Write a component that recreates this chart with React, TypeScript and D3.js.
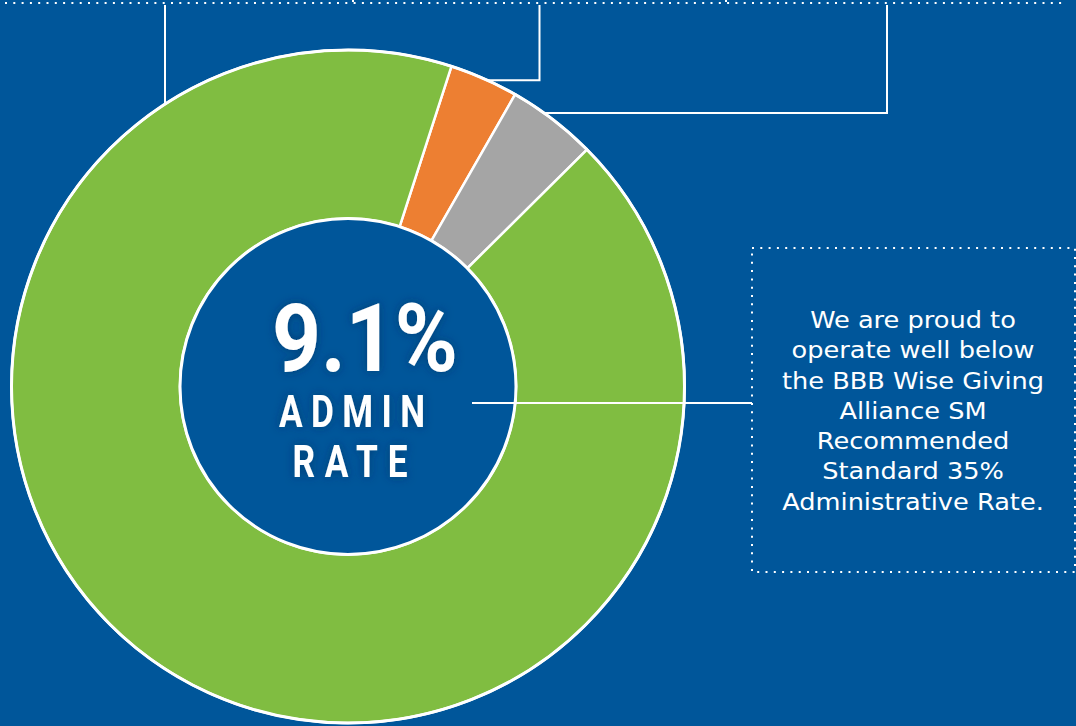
import React from "react";
import * as d3 from "d3";

const categories = ["Administrative", "Fundraising", "Programs"];
const values = [3.3, 4.3, 92.4];
const colors = ["#ED7F32", "#A5A5A5", "#80BD41"];
const centerValue = "9.1%";
const centerLabel = ["ADMIN", "RATE"];
const noteLines = [
  "We are proud to",
  "operate well below",
  "the BBB Wise Giving",
  "Alliance SM",
  "Recommended",
  "Standard 35%",
  "Administrative Rate.",
];
// fraction within slice where each leader line leaves the ring
const leaderFrac = [0.55, 0.38];

const W = 1076;
const H = 726;
const BG = "#00569A";

export default function App() {
  const cx = 348;
  const cy = 386.5;
  const R = 336.5;
  const r = 168;
  const start = (17.9 * Math.PI) / 180;

  const pie = d3
    .pie<number>()
    .sort(null)
    .value((d) => d)
    .startAngle(start)
    .endAngle(start + 2 * Math.PI);
  const arcs = pie(values);
  const arcGen = d3.arc<d3.PieArcDatum<number>>().innerRadius(r).outerRadius(R);

  const pt = (a: number, rad: number) => [cx + rad * Math.sin(a), cy - rad * Math.cos(a)];
  const at = (a: d3.PieArcDatum<number>, f: number) => a.startAngle + (a.endAngle - a.startAngle) * f;

  const topY = 3;
  const [o0x, o0y] = pt(at(arcs[0], leaderFrac[0]), R);
  const [g0x, g0y] = pt(at(arcs[1], leaderFrac[1]), R);
  const leftX = 165;
  const leftY = cy - Math.sqrt(R * R - (leftX - cx) ** 2);

  const boxX = 752;
  const boxY = 248;
  const boxR = 1075;
  const boxB = 572;
  const leadY = 403;

  const dots: number[] = d3.range(5, 1062, 8.3);
  const sx = 0.8;

  return (
    <svg width={W} height={H} style={{ position: "absolute", left: 0, top: 0, display: "block" }}>
      <defs>
        <filter id="glow" x="-20%" y="-20%" width="140%" height="140%">
          <feGaussianBlur in="SourceAlpha" stdDeviation="5" result="b" />
          <feFlood floodColor="#002a55" floodOpacity="0.55" />
          <feComposite in2="b" operator="in" />
          <feMerge>
            <feMergeNode />
            <feMergeNode in="SourceGraphic" />
          </feMerge>
        </filter>
      </defs>
      <rect x={0} y={0} width={W} height={H} fill={BG} />

      {/* top dotted line */}
      {dots.map((x, i) => (
        <rect key={i} x={x} y={topY - 1} width={2} height={2} fill="#fff" />
      ))}
      <line x1={353} x2={353} y1={0} y2={2} stroke="#fff" strokeWidth={2} />
      <line x1={726} x2={726} y1={0} y2={2} stroke="#fff" strokeWidth={2} />

      {/* leader lines */}
      <g stroke="#fff" strokeWidth={2} fill="none">
        <path d={`M${leftX},${leftY} V${topY + 2}`} />
        <path d={`M${o0x},${o0y} H539.5 V${topY + 2}`} />
        <path d={`M${g0x},${g0y} H887 V${topY + 2}`} />
      </g>

      {/* donut */}
      <g transform={`translate(${cx},${cy})`}>
        {arcs.map((a, i) => (
          <path key={categories[i]} d={arcGen(a) || ""} fill={colors[i]} stroke="#fff" strokeWidth={2.5} />
        ))}
        <circle r={R} fill="none" stroke="#fff" strokeWidth={3} />
        <circle r={r} fill={BG} stroke="#fff" strokeWidth={3} />
      </g>
      <line x1={472} x2={boxX} y1={leadY} y2={leadY} stroke="#fff" strokeWidth={2} />

      {/* center text */}
      <g fill="#fff" textAnchor="middle" filter="url(#glow)" style={{ fontFamily: "'Liberation Sans Narrow', 'Roboto', 'Liberation Sans', sans-serif", fontWeight: 700 }}>
        <g transform={`translate(365,0) scale(0.86,1)`}>
          <text x={0} y={371} fontSize={94} textLength={186 / 0.86} lengthAdjust="spacingAndGlyphs">
            {centerValue}
          </text>
        </g>
        <g transform={`translate(352,0) scale(${sx},1)`}>
          <text x={0} y={427} fontSize={44} textLength={146 / sx} lengthAdjust="spacing">
            {centerLabel[0]}
          </text>
        </g>
        <g transform={`translate(350,0) scale(${sx},1)`}>
          <text x={0} y={477} fontSize={44} textLength={115 / sx} lengthAdjust="spacing">
            {centerLabel[1]}
          </text>
        </g>
      </g>

      {/* dotted box */}
      <rect
        x={boxX}
        y={boxY}
        width={boxR - boxX}
        height={boxB - boxY}
        fill="none"
        stroke="#fff"
        strokeWidth={2}
        strokeDasharray="2 6.3"
      />

      <g
        fill="#fff"
        textAnchor="middle"
        transform="translate(913,0) scale(1.14,1)"
        style={{ fontFamily: "'DejaVu Sans', sans-serif" }}
        fontSize={22.5}
      >
        {noteLines.map((t, i) => (
          <text key={i} x={0} y={328 + i * 30.3}>
            {t}
          </text>
        ))}
      </g>
    </svg>
  );
}
